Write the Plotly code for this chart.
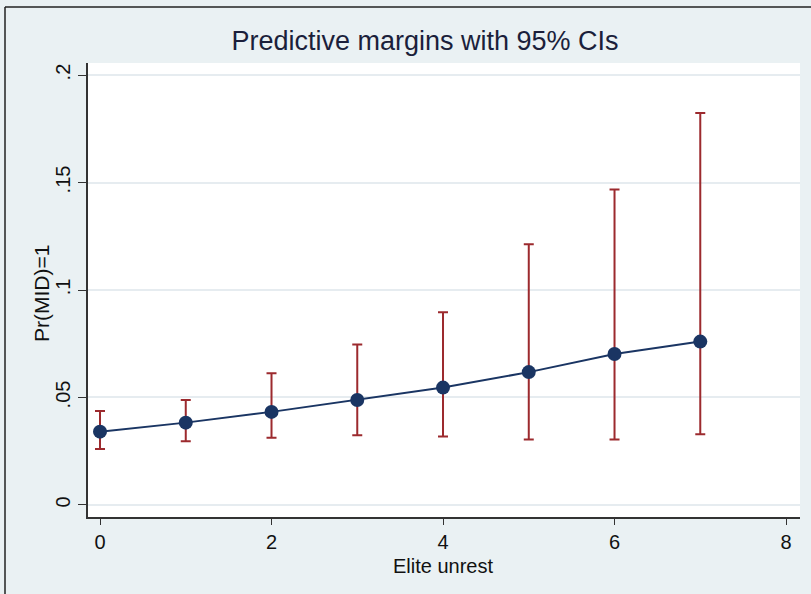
import plotly.graph_objects as go

elite_unrest = [0, 1, 2, 3, 4, 5, 6, 7]
margin = [0.0341, 0.0383, 0.0433, 0.0488, 0.0546, 0.0618, 0.0702, 0.0760]
ci_upper = [0.0437, 0.0488, 0.0613, 0.0747, 0.0896, 0.1213, 0.1468, 0.1823]
ci_lower = [0.0260, 0.0296, 0.0313, 0.0324, 0.0318, 0.0305, 0.0305, 0.0329]
y_tickvals = [0, 0.05, 0.1, 0.15, 0.2]
y_ticktext = ["0", ".05", ".1", ".15", ".2"]
x_tickvals = [0, 2, 4, 6, 8]

BG = "#eaf1f3"
FONT = "Liberation Sans, Arial, sans-serif"
ERR = "#9c2a2e"
NAVY = "#1a3563"

fig = go.Figure()
fig.add_trace(go.Scatter(
    x=elite_unrest, y=margin, mode="lines+markers",
    line=dict(color=NAVY, width=2),
    marker=dict(color=NAVY, size=14, line=dict(width=0)),
    error_y=dict(type="data", symmetric=False,
                 array=[u - m for u, m in zip(ci_upper, margin)],
                 arrayminus=[m - l for m, l in zip(margin, ci_lower)],
                 color=ERR, thickness=2, width=5),
    showlegend=False,
))

fig.update_layout(
    width=811, height=594,
    margin=dict(l=88, r=11, t=63, b=77),
    paper_bgcolor=BG, plot_bgcolor="white",
    font=dict(family=FONT, color="#111111"),
    title=dict(text="Predictive margins with 95% CIs", x=0.524, xanchor="center",
               y=1 - 41 / 594, yanchor="middle", yref="container",
               font=dict(size=27, color="#1b1f3b", family=FONT)),
    xaxis=dict(range=[-0.14, 8.163], tickvals=x_tickvals, showgrid=False, zeroline=False,
               showline=True, linecolor="#333333", linewidth=1.5,
               ticks="outside", ticklen=6, tickcolor="#333333",
               tickfont=dict(size=20, family=FONT, color="#111111")),
    yaxis=dict(range=[-0.0056, 0.2056], tickvals=y_tickvals, ticktext=y_ticktext,
               tickangle=-90, showgrid=True, gridcolor="#e6ecf0", gridwidth=1.5,
               zeroline=False, showline=True, linecolor="#333333", linewidth=1.5,
               ticks="outside", ticklen=8, tickcolor="#333333",
               tickfont=dict(size=20, family=FONT, color="#111111")),
    annotations=[
        dict(text="Elite unrest", x=(443 - 88) / 712, y=(517 - 566) / 454,
             xref="paper", yref="paper", showarrow=False, xanchor="center", yanchor="middle",
             font=dict(size=20, family=FONT, color="#111111")),
        dict(text="Pr(MID)=1", x=(41 - 88) / 712, y=(517 - 294) / 454, textangle=-90,
             xref="paper", yref="paper", showarrow=False, xanchor="center", yanchor="middle",
             font=dict(size=21, family=FONT, color="#111111")),
    ],
    shapes=[
        dict(type="line", xref="paper", yref="paper", x0=(5 - 88) / 712, x1=(811 - 88) / 712,
             y0=(517 - 7) / 454, y1=(517 - 7) / 454, line=dict(color="#222222", width=1.5)),
        dict(type="line", xref="paper", yref="paper", x0=(5 - 88) / 712, x1=(5 - 88) / 712,
             y0=(517 - 7) / 454, y1=(517 - 594) / 454, line=dict(color="#222222", width=1.5)),
    ],
)

fig.write_html("out.html")
